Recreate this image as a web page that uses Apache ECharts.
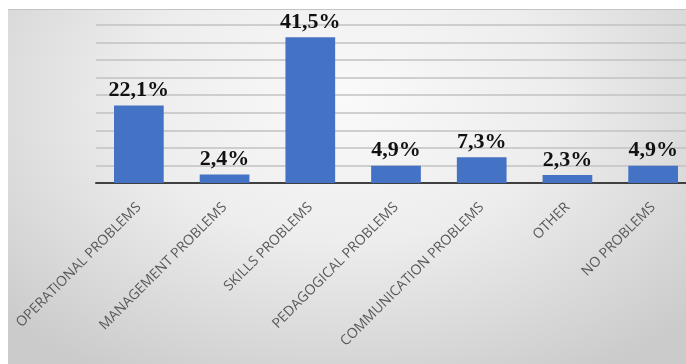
<!DOCTYPE html>
<html>
<head>
<meta charset="utf-8">
<script src="https://cdn.jsdelivr.net/npm/echarts@6/dist/echarts.min.js"></script>
<style>
  html, body { margin:0; padding:0; background:#ffffff; }
  #panel { position:absolute; left:8px; top:9px; width:678px; height:355px;
    background: radial-gradient(ellipse 70% 90% at 50% 25%, #fafafa 0%, #ededed 45%, #cbcbcb 100%);
    border-top:1px solid #c4c4c4; box-sizing:border-box; }
  #chart { position:absolute; left:0; top:0; width:686px; height:364px; }
</style>
</head>
<body>
<div id="panel"></div>
<div id="chart"></div>
<script>
const categories = ['OPERATIONAL PROBLEMS', 'MANAGEMENT PROBLEMS', 'SKILLS PROBLEMS', 'PEDAGOGICAL PROBLEMS', 'COMMUNICATION PROBLEMS', 'OTHER', 'NO PROBLEMS'];
const values = [22.1, 2.4, 41.5, 4.9, 7.3, 2.3, 4.9];
const yTicks = [0, 45, 5]; // min, max, interval

const chart = echarts.init(document.getElementById('chart'), null, { renderer: 'canvas' });
chart.setOption({
  backgroundColor: 'transparent',
  animation: false,
  grid: { left: 96, width: 600, top: 25, bottom: 181, containLabel: false, outerBoundsMode: 'none' },
  xAxis: {
    type: 'category',
    data: categories,
    axisLine: { lineStyle: { color: '#404040', width: 2 } },
    axisTick: { show: false },
    axisLabel: {
      interval: 0, rotate: 45, margin: 22,
      color: '#595959', fontSize: 14, fontFamily: 'Open Sans'
    }
  },
  yAxis: {
    type: 'value', min: yTicks[0], max: yTicks[1], interval: yTicks[2],
    axisLabel: { show: false },
    axisLine: { show: false },
    axisTick: { show: false },
    splitLine: { lineStyle: { color: '#c2c2c2', width: 1.5 } }
  },
  series: [{
    type: 'bar',
    data: values,
    barWidth: '58%',
    itemStyle: { color: '#4472c4' },
    label: {
      show: true, position: 'top', distance: 4,
      color: '#111111', fontSize: 22, fontWeight: 'bold',
      fontFamily: '"Liberation Serif", "Times New Roman", serif',
      formatter: p => p.value.toFixed(1).replace('.', ',') + '%'
    }
  }]
});
</script>
</body>
</html>
